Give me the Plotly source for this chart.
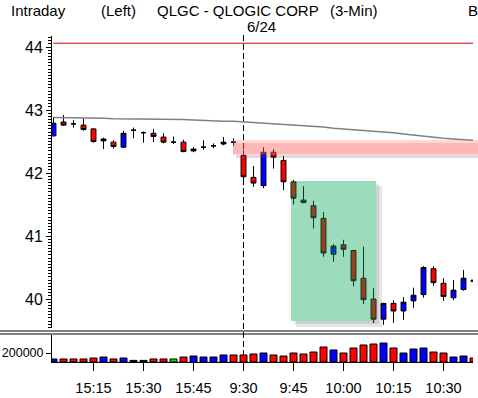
import plotly.graph_objects as go

# ---------------- data ----------------
bar_times = ["15:03", "15:06", "15:09", "15:12", "15:15", "15:18", "15:21", "15:24", "15:27", "15:30",
             "15:33", "15:36", "15:39", "15:42", "15:45", "15:48", "15:51", "15:54", "15:57",
             "9:30", "9:33", "9:36", "9:39", "9:42", "9:45", "9:48", "9:51", "9:54", "9:57",
             "10:00", "10:03", "10:06", "10:09", "10:12", "10:15", "10:18", "10:21", "10:24", "10:27",
             "10:30", "10:33", "10:36", "10:39"]
opens = [42.59, 42.81, 42.78, 42.76, 42.70, 42.51, 42.49, 42.41, 42.68, 42.64,
         42.63, 42.57, 42.49, 42.49, 42.35, 42.41, 42.43, 42.46, 42.49, 42.28,
         41.93, 41.80, 42.33, 42.20, 41.86, 41.57, 41.48, 41.28, 40.71, 40.86,
         40.77, 40.33, 40.00, 39.68, 39.93, 39.81, 39.97, 40.07, 40.48, 40.25,
         40.02, 40.15, 40.30]
highs = [42.89, 42.92, 42.84, 42.86, 42.71, 42.56, 42.52, 42.67, 42.72, 42.66,
         42.70, 42.63, 42.58, 42.53, 42.41, 42.52, 42.47, 42.57, 42.55, 42.37,
         42.11, 42.41, 42.38, 42.27, 41.89, 41.79, 41.56, 41.38, 40.87, 40.94,
         40.78, 40.83, 40.17, 39.94, 39.98, 40.03, 40.18, 40.52, 40.52, 40.33,
         40.30, 40.46, 40.32]
lows = [42.58, 42.75, 42.72, 42.67, 42.48, 42.38, 42.39, 42.40, 42.55, 42.48,
        42.49, 42.47, 42.46, 42.33, 42.33, 42.37, 42.39, 42.44, 42.43, 41.86,
        41.78, 41.76, 42.07, 41.73, 41.50, 41.52, 41.12, 40.67, 40.59, 40.67,
        40.20, 39.92, 39.62, 39.59, 39.62, 39.67, 39.86, 40.02, 40.21, 39.97,
        39.98, 40.13, 40.14]
closes = [42.79, 42.76, 42.78, 42.69, 42.50, 42.54, 42.42, 42.63, 42.68, 42.64,
          42.58, 42.49, 42.49, 42.34, 42.38, 42.41, 42.43, 42.49, 42.49, 41.94,
          41.84, 42.33, 42.25, 41.86, 41.60, 41.53, 41.29, 40.73, 40.84, 40.79,
          40.29, 39.99, 39.68, 39.93, 39.81, 39.95, 40.06, 40.50, 40.26, 40.04,
          40.14, 40.33, 40.28]
volumes = [67000, 67000, 67000, 67000, 89000, 111000, 67000, 89000, 36000, 36000,
           67000, 67000, 67000, 111000, 133000, 111000, 111000, 156000, 156000, 156000,
           178000, 200000, 156000, 133000, 200000, 178000, 222000, 333000, 267000, 200000,
           311000, 378000, 400000, 422000, 311000, 200000, 289000, 311000, 222000, 200000,
           111000, 133000, 89000]
vol_dir = ["u", "d", "d", "d", "d", "u", "d", "u", "n", "n",
           "d", "d", "g", "d", "u", "u", "u", "u", "d", "d",
           "d", "u", "d", "d", "d", "d", "d", "d", "u", "d",
           "d", "d", "d", "u", "d", "u", "u", "u", "d", "d",
           "u", "u", "d"]
moving_avg = [42.88, 42.88, 42.88, 42.88, 42.88, 42.87, 42.86, 42.86, 42.86, 42.86,
              42.86, 42.86, 42.86, 42.85, 42.84, 42.83, 42.83, 42.82, 42.82, 42.81,
              42.80, 42.80, 42.79, 42.78, 42.77, 42.75, 42.74, 42.73, 42.71, 42.70,
              42.69, 42.68, 42.67, 42.65, 42.64, 42.62, 42.60, 42.58, 42.57, 42.55,
              42.54, 42.53, 42.52]
prior_high = 44.06
x_tick_vals = ["15:15", "15:30", "15:45", "9:30", "9:45", "10:00", "10:15", "10:30"]
y_tick_vals = [40, 41, 42, 43, 44]
vol_tick_vals = [200000]
vol_tick_text = ["200000"]

# ---------------- layout helpers (pixels -> paper) ----------------
W, H = 478, 398
L, R, T, B = 52, 5, 36, 36
PW, PH = W - L - R, H - T - B


def px(x):
    return (x - L) / PW


def py(y):
    return (H - B - y) / PH


FONT = "Liberation Sans, Arial, sans-serif"
vcolor = {"u": "#0000ff", "d": "#ff0000", "n": "#000000", "g": "#00e000"}

fig = go.Figure()

fig.add_trace(go.Scatter(x=bar_times, y=[prior_high] * len(bar_times), mode="lines",
                         line=dict(color="#d00000", width=1), yaxis="y", hoverinfo="skip"))
fig.add_trace(go.Scatter(x=bar_times, y=moving_avg, mode="lines",
                         line=dict(color="#808080", width=1.5), yaxis="y", hoverinfo="skip"))
fig.add_trace(go.Candlestick(
    x=bar_times, open=opens, high=highs, low=lows, close=closes, yaxis="y",
    increasing=dict(fillcolor="#0000ff", line=dict(color="#000000", width=1)),
    decreasing=dict(fillcolor="#ff0000", line=dict(color="#000000", width=1)),
    whiskerwidth=0))
fig.add_trace(go.Bar(x=bar_times, y=volumes, yaxis="y2", width=0.7,
                     marker=dict(color=[vcolor[d] for d in vol_dir],
                                 line=dict(color="#000000", width=1))))

# price range from pixel geometry: 40 at y=299, 63 px per dollar
price_bottom = 40 + (299 - 328) / 63
price_top = 40 + (299 - T) / 63

fig.update_layout(
    template="none",
    width=W, height=H, margin=dict(l=L, r=R, t=T, b=B, autoexpand=False),
    paper_bgcolor="white", plot_bgcolor="white", showlegend=False,
    font=dict(family=FONT, size=15, color="black"),
    xaxis=dict(type="category", range=[-0.15, 41.95], anchor="y2", automargin=False,
               rangeslider=dict(visible=False), showgrid=False, zeroline=False,
               showline=True, linecolor="black", linewidth=1,
               tickmode="array", tickvals=x_tick_vals, ticktext=x_tick_vals,
               ticks="outside", ticklen=8, tickcolor="black", ticklabelstandoff=5,
               tickfont=dict(family=FONT, size=14.5)),
    yaxis=dict(domain=[py(328), 1.0], range=[price_bottom, price_top], automargin=False,
               showgrid=False, zeroline=False, showline=True, linecolor="black",
               tickmode="array", tickvals=y_tick_vals, ticks="outside", ticklen=5,
               tickcolor="black", tickfont=dict(family=FONT, size=16),
               minor=dict(dtick=0.05, ticks="outside", ticklen=3, tickcolor="black",
                          showgrid=False)),
    yaxis2=dict(domain=[0, py(335)], range=[0, 600000], automargin=False,
                showgrid=False, zeroline=False,
                showline=True, linecolor="black", tickmode="array",
                tickvals=vol_tick_vals, ticktext=vol_tick_text, ticks="outside",
                ticklen=5, tickcolor="black", tickfont=dict(family=FONT, size=12.5)),
)

shapes = []
# vertical session divider
shapes.append(dict(type="line", xref="paper", yref="paper", x0=px(243.5), x1=px(243.5),
                   y0=py(35), y1=py(362), line=dict(color="black", width=1, dash="6px,3px"),
                   layer="below"))
# separator double line
for yy in (331, 334):
    shapes.append(dict(type="line", xref="paper", yref="paper", x0=px(0), x1=px(478),
                       y0=py(yy), y1=py(yy), line=dict(color="black", width=1)))
# pink band: soft edges + shadow strip below
shapes.append(dict(type="rect", xref="paper", yref="paper", x0=px(233), x1=px(478),
                   y0=py(155), y1=py(140), fillcolor="rgba(255,110,110,0.28)", line_width=0))
shapes.append(dict(type="rect", xref="paper", yref="paper", x0=px(233), x1=px(478),
                   y0=py(154), y1=py(143), fillcolor="rgba(255,90,90,0.25)", line_width=0))
shapes.append(dict(type="rect", xref="paper", yref="paper", x0=px(236), x1=px(478),
                   y0=py(158), y1=py(155), fillcolor="rgba(120,80,80,0.22)", line_width=0))
# green box: shadow strips on right and bottom, then translucent box
shapes.append(dict(type="rect", xref="paper", yref="paper", x0=px(376), x1=px(382),
                   y0=py(327), y1=py(186), fillcolor="rgba(0,0,0,0.10)", line_width=0))
shapes.append(dict(type="rect", xref="paper", yref="paper", x0=px(296), x1=px(376),
                   y0=py(327), y1=py(321), fillcolor="rgba(0,0,0,0.10)", line_width=0))
shapes.append(dict(type="rect", xref="paper", yref="paper", x0=px(376), x1=px(379),
                   y0=py(324), y1=py(184), fillcolor="rgba(0,0,0,0.09)", line_width=0))
shapes.append(dict(type="rect", xref="paper", yref="paper", x0=px(294), x1=px(376),
                   y0=py(324), y1=py(321), fillcolor="rgba(0,0,0,0.09)", line_width=0))
shapes.append(dict(type="rect", xref="paper", yref="paper", x0=px(291), x1=px(376),
                   y0=py(321), y1=py(181), fillcolor="rgba(0,164,82,0.39)", line_width=0))
fig.update_layout(shapes=shapes)

annots = [
    ("Intraday", 9, 10, "left"),
    ("(Left)", 99, 10, "left"),
    ("QLGC - QLOGIC CORP", 155, 10, "left"),
    ("(3-Min)", 328, 10, "left"),
    ("B", 466, 10, "left"),
    ("6/24", 261, 27, "center"),
]
for text, x, y, anc in annots:
    fig.add_annotation(text=text, xref="paper", yref="paper", x=px(x), y=py(y),
                       xanchor=anc, yanchor="middle", showarrow=False,
                       font=dict(family=FONT, size=15, color="black"))

fig.write_html("out.html")
